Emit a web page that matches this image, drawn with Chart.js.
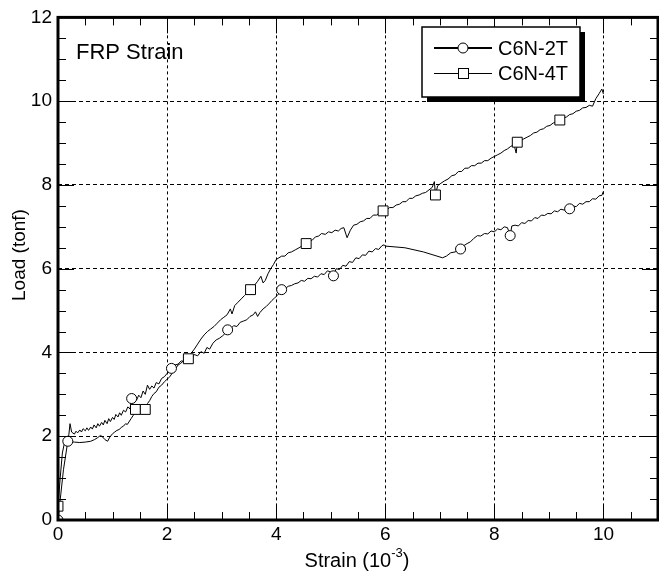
<!DOCTYPE html>
<html><head><meta charset="utf-8">
<script src="https://cdn.jsdelivr.net/npm/chart.js@4"></script>
<style>html,body{margin:0;padding:0;overflow:hidden;background:#fff;width:659px;height:578px}</style>
</head><body>
<canvas id="c" width="666" height="578" style="display:block;width:666px;height:578px"></canvas>
<script>
// ---- data ----
const seriesNames = ['C6N-2T', 'C6N-4T'];

const strain2T = [0,0.05,0.1,0.18,0.2,0.22,0.25,0.3,0.33,0.36,0.4,0.43,0.46,0.5,0.53,0.56,0.6,0.63,0.66,0.7,0.73,0.76,0.8,0.83,0.86,0.9,0.93,0.96,1.0,1.03,1.06,1.1,1.13,1.16,1.2,1.24,1.28,1.32,1.35,1.4,1.44,1.48,1.52,1.56,1.6,1.64,1.68,1.72,1.76,1.8,1.85,1.9,1.95,2.0,2.08,
2.14,2.2,2.26,2.32,2.38,2.44,2.5,2.56,2.62,2.68,2.73,2.78,2.84,2.9,2.96,3.02,3.06,3.11,3.16,3.22,3.28,3.34,3.4,3.46,3.52,3.58,3.62,3.66,3.7,3.76,3.82,3.88,3.92,3.97,4.02,4.06,4.1,4.16,4.22,4.28,4.34,4.4,4.46,4.52,4.58,4.64,4.7,4.76,4.82,4.88,4.94,5.0,5.05,5.1,5.16,5.22,5.28,5.34,5.4,5.46,5.52,5.58,5.64,5.7,5.76,5.82,5.88,5.94,5.98,6.0,6.36,6.7,7.05,7.12,7.2,7.28,7.38,7.44,7.5,7.56,7.62,7.69,7.75,7.82,7.88,7.94,8.0,8.06,8.12,8.18,8.24,8.29,8.32,8.38,8.44,8.5,8.56,8.62,8.68,8.74,8.8,8.86,8.92,8.98,9.04,9.1,9.16,9.22,9.28,9.38,9.44,9.5,9.56,9.62,9.68,9.74,9.8,9.86,9.92,9.97,10.0];
const load2T = [0,0.6,1.2,1.88,2.05,2.3,2.1,2.05,2.12,2.08,2.15,2.1,2.18,2.13,2.2,2.14,2.22,2.17,2.27,2.2,2.3,2.24,2.33,2.27,2.38,2.3,2.42,2.35,2.45,2.4,2.52,2.46,2.56,2.5,2.62,2.58,2.7,2.65,2.9,2.92,2.86,2.98,2.92,3.08,3.0,3.22,3.12,3.2,3.15,3.28,3.25,3.38,3.42,3.5,3.62,
3.7,3.72,3.8,3.78,3.86,3.84,3.95,3.92,4.02,3.98,4.12,4.08,4.22,4.3,4.34,4.4,4.45,4.54,4.56,4.64,4.62,4.72,4.75,4.78,4.86,4.9,4.97,4.86,4.95,5.04,5.1,5.18,5.24,5.3,5.36,5.42,5.5,5.52,5.58,5.6,5.64,5.66,5.72,5.7,5.77,5.76,5.82,5.8,5.88,5.86,5.95,5.92,5.83,6.0,5.98,6.08,6.06,6.17,6.15,6.26,6.24,6.33,6.32,6.42,6.4,6.48,6.46,6.55,6.57,6.54,6.5,6.4,6.26,6.3,6.38,6.4,6.47,6.55,6.6,6.64,6.72,6.79,6.78,6.84,6.83,6.9,6.88,6.95,6.93,7.0,6.98,6.79,7.02,7.04,7.02,7.1,7.08,7.15,7.14,7.22,7.2,7.28,7.27,7.32,7.31,7.38,7.36,7.42,7.4,7.43,7.5,7.48,7.56,7.54,7.6,7.6,7.67,7.66,7.74,7.75,7.85];

const strain4T = [0,0.04,0.08,0.12,0.2,0.3,0.4,0.5,0.6,0.67,0.72,0.78,0.82,0.86,0.91,0.95,1.0,1.04,1.08,1.12,1.17,1.2,1.24,1.27,1.3,1.34,1.38,1.42,1.48,1.54,1.6,1.64,1.68,1.72,1.76,1.8,1.85,1.9,1.95,2.0,2.05,2.1,2.15,2.2,2.25,2.3,2.35,2.39,2.44,2.5,2.56,2.62,2.68,2.74,2.8,2.86,2.92,2.98,3.04,3.1,3.16,3.19,3.24,3.3,3.36,3.42,3.48,3.53,3.6,3.66,3.72,3.76,3.8,3.85,3.9,3.95,4.0,4.05,4.1,4.16,4.22,4.28,4.35,4.42,4.48,4.55,4.6,4.66,4.72,4.78,4.83,4.9,4.96,5.02,5.08,5.14,5.19,5.24,5.3,5.36,5.42,5.48,5.54,5.6,5.66,5.72,5.78,5.84,5.9,5.96,6.02,6.08,6.14,6.2,6.26,6.32,6.38,6.44,6.5,6.56,6.62,6.68,6.74,6.8,6.86,6.9,6.92,6.96,7.02,7.09,7.15,7.22,7.28,7.34,7.4,7.46,7.52,7.58,7.64,7.7,7.76,7.82,7.88,7.94,8.0,8.06,8.12,8.18,8.24,8.3,8.36,8.4,8.42,8.48,8.54,8.6,8.66,8.72,8.78,8.84,8.9,8.96,9.02,9.08,9.14,9.2,9.26,9.32,9.38,9.44,9.5,9.56,9.62,9.68,9.74,9.8,9.86,9.92,9.97,10.0];
const load4T = [0.33,1.0,1.6,1.85,1.87,1.86,1.85,1.86,1.88,1.92,1.96,2.02,1.98,1.92,1.88,1.98,2.06,2.1,2.14,2.16,2.22,2.24,2.3,2.28,2.34,2.42,2.5,2.64,2.7,2.68,2.64,2.78,2.85,2.95,3.02,3.06,3.17,3.22,3.3,3.36,3.42,3.52,3.6,3.7,3.74,3.8,3.82,3.85,3.98,4.08,4.2,4.32,4.42,4.5,4.56,4.62,4.7,4.78,4.84,4.9,5.04,4.92,5.12,5.2,5.28,5.36,5.44,5.5,5.6,5.7,5.82,5.66,5.72,5.88,6.0,6.1,6.22,6.26,6.3,6.3,6.38,6.4,6.45,6.5,6.55,6.6,6.66,6.68,6.76,6.78,6.84,6.82,6.88,6.86,6.92,6.9,6.96,6.98,6.74,6.92,7.04,7.06,7.12,7.14,7.2,7.2,7.28,7.28,7.34,7.38,7.4,7.46,7.46,7.52,7.54,7.6,7.6,7.68,7.68,7.74,7.76,7.8,7.82,7.88,7.94,8.08,7.76,7.98,8.04,8.1,8.14,8.22,8.24,8.32,8.32,8.4,8.4,8.46,8.46,8.52,8.52,8.58,8.58,8.64,8.68,8.72,8.76,8.82,8.86,8.92,8.96,8.76,9.02,9.06,9.1,9.14,9.18,9.24,9.26,9.32,9.34,9.4,9.42,9.48,9.5,9.55,9.6,9.62,9.68,9.7,9.76,9.78,9.84,9.85,9.9,9.88,10.06,10.18,10.29,10.17];

// marker positions (symbols drawn on the curves)
const markStrain2T = [0,0.18,1.35,2.08,3.11,4.1,5.05,7.38,8.29,9.38];
const markLoad2T   = [0,1.88,2.9,3.62,4.54,5.5,5.83,6.47,6.79,7.43];
const markStrain4T = [0,1.42,1.6,2.39,3.53,4.55,5.96,6.92,8.42,9.2];
const markLoad4T   = [0.33,2.64,2.64,3.85,5.5,6.6,7.38,7.76,9.02,9.55];

const xRange = [0, 11];
const yRange = [0, 12];
const majorStep = 2;
const minorStep = 0.5;
const xTitleMain = 'Strain (10', xTitleSup = '-3', xTitleEnd = ')';
const yTitle = 'Load (tonf)';
const noteText = 'FRP Strain';

// ---- build ----
const pts = (xs, ys) => xs.map((v, i) => ({x: v, y: ys[i]}));
const FONT = "'Liberation Sans', Arial, Helvetica, sans-serif";

const decor = {
  id: 'decor',
  afterDraw(chart) {
    const {ctx, chartArea: a, scales: {x, y}} = chart;
    ctx.save();
    ctx.strokeStyle = '#000';
    ctx.lineWidth = 1;
    const seg = (x1, y1, x2, y2) => { ctx.beginPath(); ctx.moveTo(x1, y1); ctx.lineTo(x2, y2); ctx.stroke(); };
    const nx = Math.round((xRange[1] - xRange[0]) / minorStep);
    for (let i = 0; i <= nx; i++) {
      const v = xRange[0] + i * minorStep;
      const px = Math.round(x.getPixelForValue(v)) + 0.5;
      const len = (i % Math.round(majorStep / minorStep) === 0) ? 16 : 8;
      seg(px, a.bottom, px, a.bottom - len);
      seg(px, a.top, px, a.top + len);
    }
    const ny = Math.round((yRange[1] - yRange[0]) / minorStep);
    for (let i = 0; i <= ny; i++) {
      const v = yRange[0] + i * minorStep;
      const py = Math.round(y.getPixelForValue(v)) + 0.5;
      const len = (i % Math.round(majorStep / minorStep) === 0) ? 16 : 8;
      seg(a.left, py, a.left + len, py);
      seg(a.right, py, a.right - len, py);
    }
    // frame
    ctx.lineWidth = 3;
    ctx.strokeRect(a.left, a.top, a.right - a.left, a.bottom - a.top);

    // legend box with shadow
    const L = 422, T = 27, R = 580, B = 97;
    ctx.fillStyle = '#000';
    ctx.fillRect(L + 5, T + 5, R - L, B - T);
    ctx.fillStyle = '#fff';
    ctx.fillRect(L, T, R - L, B - T);
    ctx.lineWidth = 1.5;
    ctx.strokeRect(L, T, R - L, B - T);
    // entry 1
    ctx.lineWidth = 2;
    seg(434, 48, 492, 48);
    ctx.beginPath(); ctx.arc(463, 48, 5, 0, Math.PI * 2);
    ctx.fillStyle = '#fff'; ctx.fill(); ctx.lineWidth = 1; ctx.stroke();
    // entry 2
    ctx.lineWidth = 1;
    seg(434, 73.5, 492, 73.5);
    ctx.fillStyle = '#fff';
    ctx.fillRect(458, 68.5, 10, 10); ctx.strokeRect(458.5, 68.5, 10, 10);
    ctx.fillStyle = '#000';
    ctx.font = `20px ${FONT}`;
    ctx.textBaseline = 'middle'; ctx.textAlign = 'left';
    ctx.fillText(seriesNames[0], 498, 49);
    ctx.fillText(seriesNames[1], 498, 74);

    // note
    ctx.font = `22px ${FONT}`;
    ctx.fillText(noteText, 76, 53);

    // x title with superscript
    ctx.font = `20px ${FONT}`;
    const w1 = ctx.measureText(xTitleMain).width;
    const w3 = ctx.measureText(xTitleEnd).width;
    ctx.font = `13px ${FONT}`;
    const w2 = ctx.measureText(xTitleSup).width;
    let sx = 357 - (w1 + w2 + w3) / 2;
    const by = 561;
    ctx.font = `20px ${FONT}`;
    ctx.fillText(xTitleMain, sx, by);
    ctx.font = `13px ${FONT}`;
    ctx.fillText(xTitleSup, sx + w1, by - 8);
    ctx.font = `20px ${FONT}`;
    ctx.fillText(xTitleEnd, sx + w1 + w2, by);

    // y title
    ctx.save();
    ctx.translate(20, 255);
    ctx.rotate(-Math.PI / 2);
    ctx.textAlign = 'center';
    ctx.font = `19px ${FONT}`;
    ctx.fillText(yTitle, 0, 0);
    ctx.restore();
    ctx.restore();
  }
};

new Chart(document.getElementById('c'), {
  type: 'scatter',
  data: {
    datasets: [
      {label: seriesNames[0] + ' marks', data: pts(markStrain2T, markLoad2T), showLine: false,
       pointStyle: 'circle', pointRadius: 5, pointBackgroundColor: '#fff', pointBorderColor: '#000', pointBorderWidth: 1},
      {label: seriesNames[1] + ' marks', data: pts(markStrain4T, markLoad4T), showLine: false,
       pointStyle: 'rect', pointRadius: 7, pointBackgroundColor: '#fff', pointBorderColor: '#000', pointBorderWidth: 1},
      {label: seriesNames[0], data: pts(strain2T, load2T), showLine: true, borderColor: '#000', borderWidth: 1, pointRadius: 0, tension: 0},
      {label: seriesNames[1], data: pts(strain4T, load4T), showLine: true, borderColor: '#000', borderWidth: 1, pointRadius: 0, tension: 0}
    ]
  },
  options: {
    responsive: false, animation: false, devicePixelRatio: 1,
    layout: {padding: {top: 16, right: 3, left: 0, bottom: 0}},
    plugins: {legend: {display: false}, tooltip: {enabled: false}},
    scales: {
      x: {type: 'linear', min: xRange[0], max: xRange[1],
        afterFit: (s) => { s.height = 58; },
        ticks: {stepSize: majorStep, includeBounds: false, color: '#000', padding: 3, maxRotation: 0,
                font: {family: FONT, size: 19}},
        grid: {drawTicks: false, lineWidth: 1,
               color: (c) => { const v = c.tick && c.tick.value; return (v === undefined || v <= xRange[0] || v >= xRange[1]) ? 'rgba(0,0,0,0)' : '#000'; }},
        border: {display: false, dash: [3, 3]}},
      y: {type: 'linear', min: yRange[0], max: yRange[1],
        afterFit: (s) => { s.width = 58; },
        ticks: {stepSize: majorStep, color: '#000', padding: 6, font: {family: FONT, size: 19}},
        grid: {drawTicks: false, lineWidth: 1,
               color: (c) => { const v = c.tick && c.tick.value; return (v === undefined || v <= yRange[0] || v >= yRange[1]) ? 'rgba(0,0,0,0)' : '#000'; }},
        border: {display: false, dash: [4, 3]}}
    }
  },
  plugins: [decor]
});
</script>
</body></html>
